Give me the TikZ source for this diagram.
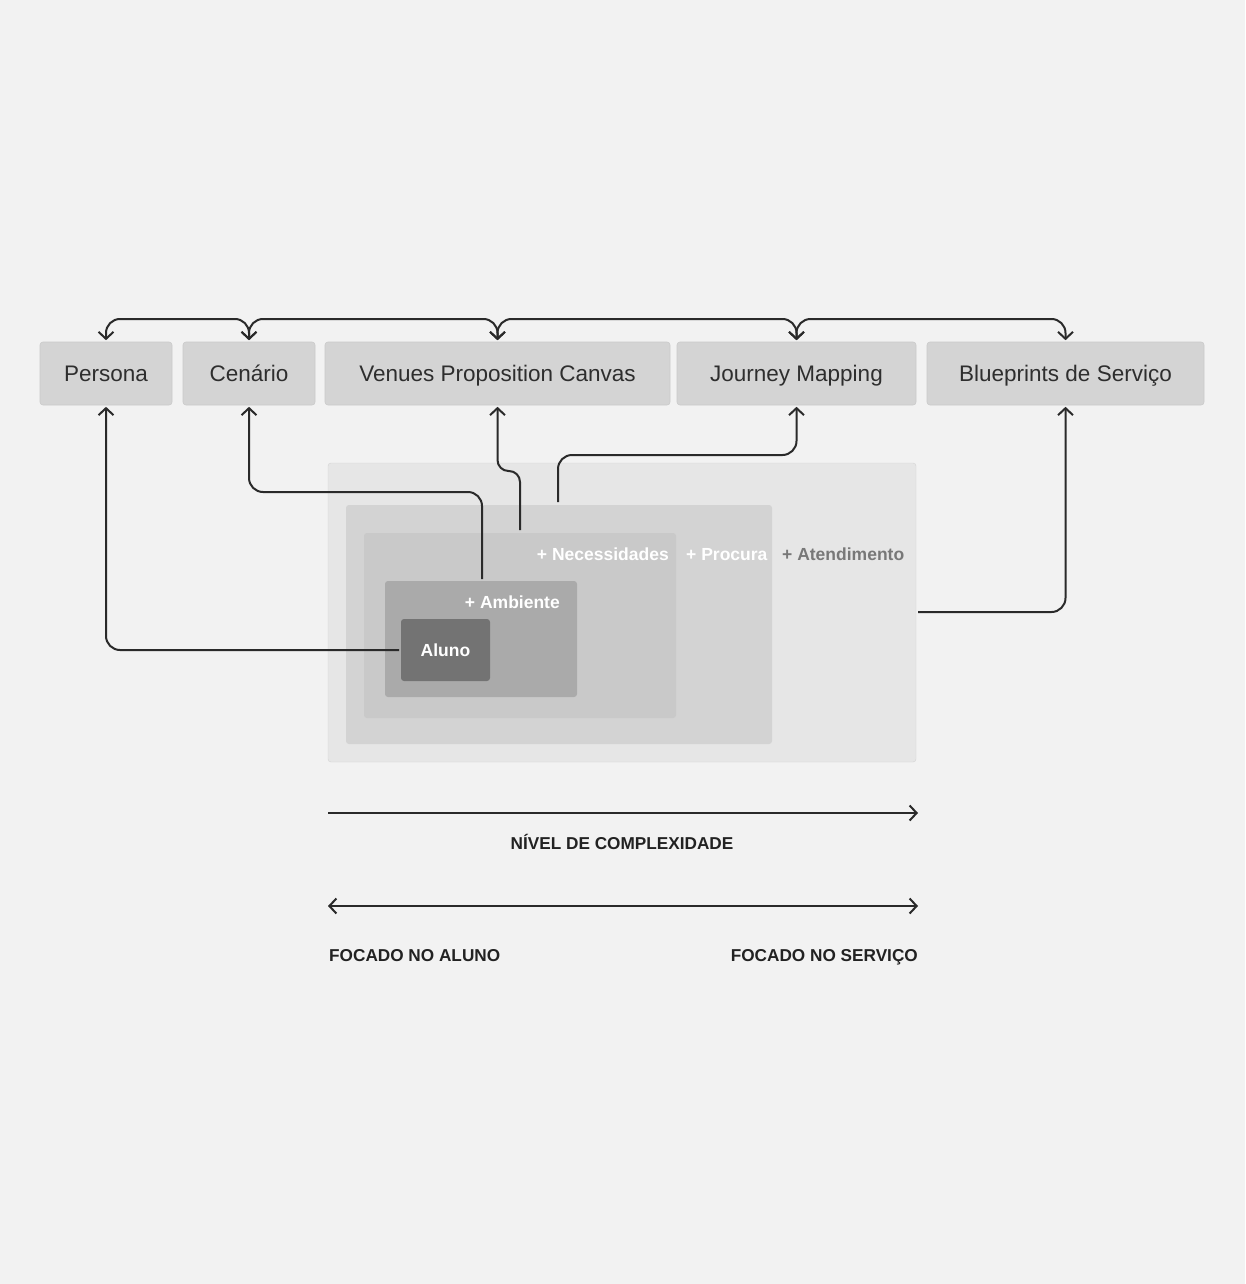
\documentclass[tikz,border=0pt]{standalone}
\usepackage{fontspec}
\setmainfont{Liberation Sans}
\usetikzlibrary{arrows.meta}
\definecolor{bg}{HTML}{F2F2F2}
\definecolor{toolfill}{HTML}{D4D4D4}
\definecolor{tooledge}{HTML}{CACACA}
\definecolor{txtdark}{HTML}{2E2E2E}
\definecolor{linec}{HTML}{2A2A2A}
\definecolor{atfill}{HTML}{E6E6E6}
\definecolor{prfill}{HTML}{D3D3D3}
\definecolor{nefill}{HTML}{C9C9C9}
\definecolor{amfill}{HTML}{AAAAAA}
\definecolor{alfill}{HTML}{737373}
\definecolor{atxt}{HTML}{787878}
\definecolor{labdark}{HTML}{222222}
\tikzset{
  toolbox/.style={fill=toolfill, draw=tooledge, line width=0.6pt, rounded corners=3pt,
    minimum height=63pt, inner sep=0pt, text=txtdark,
    font=\fontsize{22.5}{27}\selectfont, text height=16pt, text depth=0pt},
  layer/.style={rounded corners=3pt, inner sep=0pt},
  conn/.style={draw=linec, line width=2pt, rounded corners=14pt},
  tip/.style={-{Straight Barb[length=7pt,width=15pt,line width=2pt]}},
  tips/.style={{Straight Barb[length=7pt,width=15pt,line width=2pt]}-{Straight Barb[length=7pt,width=15pt,line width=2pt]}},
  layerlab/.style={inner sep=0pt, font=\bfseries\fontsize{17.5}{21}\selectfont, text height=12.6pt, text depth=0pt},
  axislab/.style={inner sep=0pt, text=labdark, font=\bfseries\fontsize{17.2}{21}\selectfont, text height=12.4pt, text depth=0pt},
}
\begin{document}
\begin{tikzpicture}[x=1pt,y=-1pt]
\fill[bg] (0,0) rectangle (1245,1284);
\useasboundingbox (0,0) rectangle (1245,1284);

% top row
\node[toolbox, minimum width=132pt] (persona) at (106,373.5) {Persona};
\node[toolbox, minimum width=132pt] (cenario) at (249,373.5) {Cenário};
\node[toolbox, minimum width=345pt] (vpc) at (497.5,373.5) {Venues Proposition Canvas};
\node[toolbox, minimum width=239pt] (journey) at (796.5,373.5) {Journey Mapping};
\node[toolbox, minimum width=277pt] (blue) at (1065.5,373.5) {Blueprints de Serviço};

% nested layers
\node[layer, fill=atfill, draw=atfill!92!black, line width=0.4pt, minimum width=588pt, minimum height=299pt] (atend) at (622,612.5) {};
\node[layer, fill=prfill, minimum width=426pt, minimum height=239pt] (procura) at (559,624.5) {};
\node[layer, fill=nefill, minimum width=312pt, minimum height=185pt] (necess) at (520,625.5) {};
\node[layer, fill=amfill, minimum width=192pt, minimum height=116pt] (ambiente) at (481,639) {};
\node[layer, fill=alfill, minimum width=89pt, minimum height=62pt, text=white,
  font=\bfseries\fontsize{17.5}{21}\selectfont, text height=12.6pt, text depth=0pt] (aluno) at (445.5,650) {Aluno};

\node[layerlab, text=white, anchor=east] (lnec) at (669,554) {+ Necessidades};
\node[layerlab, text=white, anchor=west] (lpro) at (686,554) {+ Procura};
\node[layerlab, text=atxt, anchor=west] (late) at (782,554) {+ Atendimento};
\node[layerlab, text=white, anchor=east] (lamb) at (560,602) {+ Ambiente};

% top connectors
\coordinate (ytop) at (0,319);
\foreach \a/\b in {persona/cenario, cenario/vpc, vpc/journey, journey/blue}{
  \draw[conn, tips, shorten <=1.5pt, shorten >=1.5pt] (\a.north) -- (\a.north |- ytop) -- (\b.north |- ytop) -- (\b.north);
}

% connectors from layers
\coordinate (cL) at (399,650);
\coordinate (cA) at (482,579);
\coordinate (cN) at (520,530);
\coordinate (cP) at (558,502);
\coordinate (cB) at (918,612);
\coordinate (yCen) at (0,492);
\coordinate (yVpc) at (0,471);
\coordinate (yJou) at (0,455);

\draw[conn, tip, shorten >=1.5pt] (cL) -- (persona.south |- cL) -- (persona.south);
\draw[conn, tip, shorten >=1.5pt] (cA) -- (cA |- yCen) -- (cenario.south |- yCen) -- (cenario.south);
\draw[conn, tip, shorten >=1.5pt, rounded corners=11pt] (cN) -- (cN |- yVpc) -- (vpc.south |- yVpc) -- (vpc.south);
\draw[conn, tip, shorten >=1.5pt] (cP) -- (cP |- yJou) -- (journey.south |- yJou) -- (journey.south);
\draw[conn, tip, shorten >=1.5pt] (cB) -- (blue.south |- cB) -- (blue.south);

% axes
\coordinate (a1s) at (328,813);
\coordinate (a1e) at (918,813);
\coordinate (a2s) at (328,906);
\coordinate (a2e) at (918,906);
\draw[conn, tip] (a1s) -- (a1e);
\draw[conn, tips] (a2s) -- (a2e);

\node[axislab] (nivel) at (622,843) {NÍVEL DE COMPLEXIDADE};
\node[axislab, anchor=west] (faluno) at (329,955) {FOCADO NO ALUNO};
\node[axislab, anchor=east] (fserv) at (918,955) {FOCADO NO SERVIÇO};
\end{tikzpicture}
\end{document}
